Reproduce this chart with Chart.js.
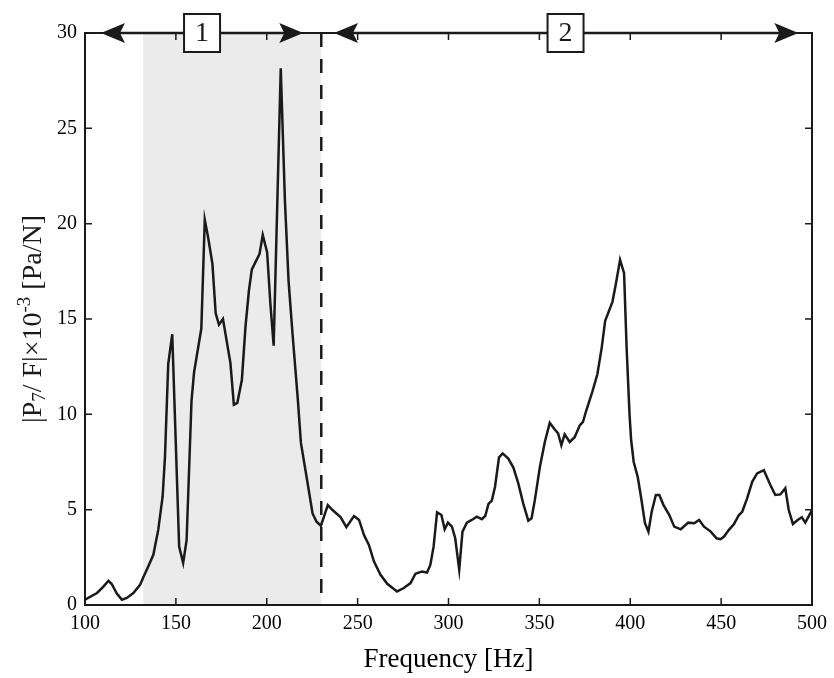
<!DOCTYPE html>
<html>
<head>
<meta charset="utf-8">
<script src="https://cdn.jsdelivr.net/npm/chart.js@4.4.1/dist/chart.umd.min.js"></script>
<style>
  html, body { margin: 0; padding: 0; background: #fff; }
  #wrap { width: 834px; height: 678px; }
</style>
</head>
<body>
<div id="wrap"><canvas id="chart"></canvas></div>
<script>
// frequency samples [Hz] and |P7/F| x 1e-3 [Pa/N]
const freqHz = [
  100, 106.6, 110, 112.9, 114.7, 117.5, 120.3, 123, 126.6, 130.3,
  132.1, 134.8, 137.6, 140.3, 142.7, 144, 145.8, 148, 151.8, 154,
  155.9, 158.6, 160, 164, 165.9, 167.7, 170.1, 171.9, 173.7, 175.9,
  180, 181.9, 183.8, 186.3, 188.3, 190.2, 191.8, 196, 197.8, 200.2,
  202, 203.8, 207.7, 210, 212, 214.2, 217, 218.8, 221.6, 225.2,
  227.4, 229.8, 233.6, 236.2, 240.7, 243.8, 248, 250.8, 253.5, 256.2,
  259, 262.6, 266.3, 271.7, 275.4, 279.1, 281.8, 285.4, 288.2, 290,
  291.8, 293.7, 296.1, 297.9, 299.7, 301.9, 303.7, 305.9, 307.7, 310.1,
  312.8, 315.6, 318.3, 320.2, 322, 323.8, 325.6, 327.8, 329.8, 332.9,
  335.7, 338.4, 341.1, 343.9, 345.7, 347.5, 350.3, 353, 355.7, 358.5,
  360.3, 362.1, 363.9, 366.7, 369.4, 372.2, 374, 375.8, 379.2, 381.9,
  384.3, 386.2, 390.2, 392, 394.4, 396.6, 398, 399.6, 400.5, 401.9,
  404.1, 405.9, 408.1, 410, 411.8, 414.1, 416, 418.3, 421.5, 424.2,
  427.8, 431.9, 435.2, 437.9, 440.6, 444.3, 447.5, 449.7, 451.6, 454.3,
  457.1, 459.8, 461.6, 464.3, 467.1, 469.8, 473.5, 477.1, 479.8, 482.6,
  485.3, 487.2, 489.5, 492.1, 494.4, 496.3, 500
];
const magnitude = [
  0.28, 0.63, 0.95, 1.27, 1.1, 0.6, 0.28, 0.37, 0.63, 1.06,
  1.46, 2.02, 2.63, 3.94, 5.68, 7.77, 12.65, 14.2, 3.06, 2.2,
  3.4, 10.7, 12.2, 14.5, 20.2, 19.3, 17.9, 15.3, 14.7, 15.0,
  12.7, 10.5, 10.6, 11.8, 14.6, 16.5, 17.6, 18.4, 19.4, 18.5,
  15.8, 13.6, 28.15, 21.2, 17.0, 14.2, 10.9, 8.5, 6.9, 4.8,
  4.37, 4.16, 5.24, 4.98, 4.6, 4.08, 4.67, 4.46, 3.67, 3.15,
  2.28, 1.58, 1.11, 0.71, 0.89, 1.15, 1.64, 1.76, 1.70, 2.1,
  3.06, 4.86, 4.72, 3.97, 4.32, 4.11, 3.5, 1.85, 3.85, 4.32,
  4.46, 4.63, 4.5, 4.67, 5.3, 5.47, 6.2, 7.74, 7.95, 7.68,
  7.21, 6.38, 5.33, 4.42, 4.55, 5.5, 7.25, 8.55, 9.55, 9.2,
  9.0, 8.38, 8.95, 8.55, 8.8, 9.42, 9.6, 10.2, 11.2, 12.1,
  13.5, 14.9, 15.9, 16.8, 18.1, 17.4, 13.5, 10.0, 8.64, 7.5,
  6.72, 5.68, 4.29, 3.85, 4.89, 5.77, 5.77, 5.24, 4.72, 4.11,
  3.97, 4.32, 4.29, 4.46, 4.11, 3.85, 3.5, 3.45, 3.59, 3.94,
  4.25, 4.72, 4.89, 5.59, 6.46, 6.9, 7.07, 6.29, 5.77, 5.8,
  6.12, 4.98, 4.25, 4.46, 4.6, 4.32, 4.98
];

const xTicks = [100, 150, 200, 250, 300, 350, 400, 450, 500];
const yTicks = [0, 5, 10, 15, 20, 25, 30];

// shaded region 1 and the dashed divider
const shadeBand = [132, 230];
const dividerHz = 230;

// arrow spans across the top border
const regionNames = ['1', '2'];
const regionFrom  = [108.8, 237];
const regionTo    = [220.1, 492.5];
const regionMid   = [164.4, 364.4];

const serif = '"Liberation Serif", "Times New Roman", serif';
const ink = '#1a1a1a';

function arrowHead(ctx, tipX, y, dir) {
  ctx.beginPath();
  ctx.moveTo(tipX, y);
  ctx.lineTo(tipX - dir * 24, y - 10);
  ctx.lineTo(tipX - dir * 19, y);
  ctx.lineTo(tipX - dir * 24, y + 10);
  ctx.closePath();
  ctx.fill();
}

const decor = {
  id: 'decor',
  beforeDatasetsDraw(chart) {
    const { ctx, chartArea: a, scales: { x } } = chart;
    ctx.save();
    const x0 = x.getPixelForValue(shadeBand[0]);
    const x1 = x.getPixelForValue(shadeBand[1]);
    ctx.fillStyle = '#ebebeb';
    ctx.fillRect(x0, a.top, x1 - x0, a.bottom - a.top);

    const xd = x.getPixelForValue(dividerHz);
    ctx.strokeStyle = ink;
    ctx.lineWidth = 2.5;
    ctx.setLineDash([14, 12]);
    ctx.beginPath();
    ctx.moveTo(xd, a.top);
    ctx.lineTo(xd, a.bottom);
    ctx.stroke();
    ctx.restore();
  },
  afterDatasetsDraw(chart) {
    const { ctx, chartArea: a, scales: { x, y } } = chart;
    ctx.save();
    ctx.strokeStyle = ink;
    ctx.lineWidth = 1.5;
    // inward ticks on all four sides
    ctx.beginPath();
    x.ticks.forEach(t => {
      const px = x.getPixelForValue(t.value);
      ctx.moveTo(px, a.bottom); ctx.lineTo(px, a.bottom - 7);
      ctx.moveTo(px, a.top);    ctx.lineTo(px, a.top + 7);
    });
    y.ticks.forEach(t => {
      const py = y.getPixelForValue(t.value);
      ctx.moveTo(a.left, py);  ctx.lineTo(a.left + 7, py);
      ctx.moveTo(a.right, py); ctx.lineTo(a.right - 7, py);
    });
    ctx.stroke();
    // frame
    ctx.lineWidth = 2;
    ctx.strokeRect(a.left, a.top, a.right - a.left, a.bottom - a.top);
    ctx.restore();
  },
  afterDraw(chart) {
    const { ctx, chartArea: a, scales: { x } } = chart;
    const yTop = a.top;
    ctx.save();
    ctx.strokeStyle = ink;
    ctx.fillStyle = ink;
    ctx.lineWidth = 2.5;

    // ── region arrows + numbered boxes ──
    regionNames.forEach((name, i) => {
      const xa = x.getPixelForValue(regionFrom[i]);
      const xb = x.getPixelForValue(regionTo[i]);
      ctx.beginPath();
      ctx.moveTo(xa + 8, yTop);
      ctx.lineTo(xb - 8, yTop);
      ctx.stroke();
      arrowHead(ctx, xa, yTop, -1);
      arrowHead(ctx, xb, yTop, 1);

      const xm = x.getPixelForValue(regionMid[i]);
      ctx.fillStyle = '#fff';
      ctx.fillRect(xm - 18, yTop - 19, 36, 38);
      ctx.lineWidth = 2;
      ctx.strokeRect(xm - 18, yTop - 19, 36, 38);
      ctx.fillStyle = ink;
      ctx.font = '28px ' + serif;
      ctx.textAlign = 'center';
      ctx.textBaseline = 'middle';
      ctx.fillText(name, xm, yTop + 1);
      ctx.lineWidth = 2.5;
    });

    // ── y-axis title with subscript / superscript ──
    const parts = [
      { t: '|P', s: 0 }, { t: '7', s: 1 }, { t: '/ F|\u00d710', s: 0 },
      { t: '-3', s: 2 }, { t: ' [Pa/N]', s: 0 }
    ];
    const big = 28, small = 19;
    let total = 0;
    parts.forEach(p => {
      ctx.font = (p.s ? small : big) + 'px ' + serif;
      p.w = ctx.measureText(p.t).width;
      total += p.w;
    });
    ctx.translate(34, (a.top + a.bottom) / 2);
    ctx.rotate(-Math.PI / 2);
    ctx.textAlign = 'left';
    ctx.textBaseline = 'middle';
    let cx = -total / 2;
    parts.forEach(p => {
      ctx.font = (p.s ? small : big) + 'px ' + serif;
      const dy = p.s === 1 ? 6 : p.s === 2 ? -9 : 0;
      ctx.fillText(p.t, cx, dy);
      cx += p.w;
    });
    ctx.restore();
  }
};

new Chart(document.getElementById('chart'), {
  type: 'line',
  data: {
    datasets: [{
      data: freqHz.map((f, i) => ({ x: f, y: magnitude[i] })),
      borderColor: ink,
      borderWidth: 2.5,
      pointRadius: 0,
      tension: 0,
      fill: false,
    }],
  },
  plugins: [decor],
  options: {
    responsive: true,
    maintainAspectRatio: false,
    animation: false,
    layout: { padding: { left: 0, right: 19, top: 33, bottom: 0 } },
    plugins: {
      legend: { display: false },
      tooltip: { enabled: false },
    },
    scales: {
      x: {
        type: 'linear',
        min: 100,
        max: 500,
        afterBuildTicks: s => { s.ticks = xTicks.map(v => ({ value: v })); },
        afterFit: s => { s.height = 73; },
        grid: { display: false, drawTicks: false },
        border: { display: false },
        ticks: { color: '#000', padding: 7, maxRotation: 0, font: { family: serif, size: 20 } },
        title: {
          display: true,
          text: 'Frequency [Hz]',
          color: '#000',
          padding: { top: 2, bottom: 2 },
          font: { family: serif, size: 27 },
        },
      },
      y: {
        min: 0,
        max: 30,
        afterBuildTicks: s => { s.ticks = yTicks.map(v => ({ value: v })); },
        afterFit: s => { s.width = 85; },
        grid: { display: false, drawTicks: false },
        border: { display: false },
        ticks: { color: '#000', padding: 8, font: { family: serif, size: 20 } },
      },
    },
  },
});
</script>
</body>
</html>
